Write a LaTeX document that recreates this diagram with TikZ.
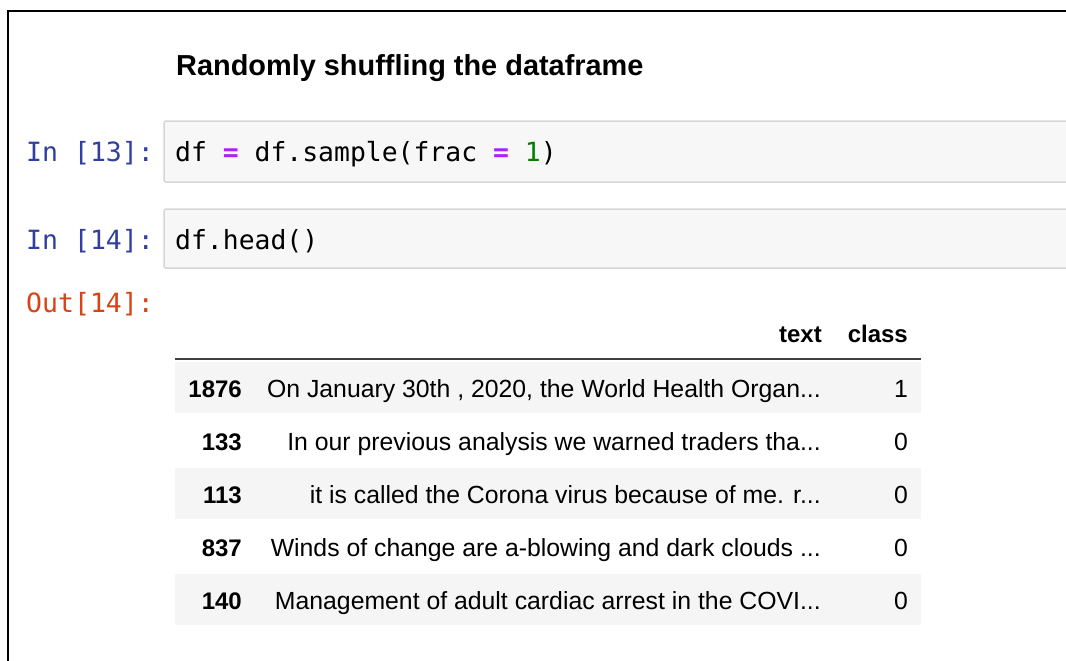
\documentclass[tikz,border=0pt]{standalone}
\usepackage{fontspec}
\setmainfont{Liberation Sans}
\setmonofont{DejaVu Sans Mono}
\usetikzlibrary{positioning}

\definecolor{promptIn}{HTML}{303F9F}
\definecolor{promptOut}{HTML}{D84315}
\definecolor{cellFill}{HTML}{F7F7F7}
\definecolor{cellLine}{HTML}{D6D6D6}
\definecolor{rowFill}{HTML}{F5F5F5}
\definecolor{opPurple}{HTML}{AA22FF}
\definecolor{numGreen}{HTML}{008000}

\tikzset{
	prompt/.style={anchor=base west, inner sep=0pt, font=\fontsize{26.5}{30}\ttfamily},
	code/.style={anchor=base west, inner sep=0pt, font=\fontsize{26.4}{30}\ttfamily},
	cellbox/.style={draw=cellLine, fill=cellFill, line width=1.5pt, rounded corners=2pt},
	tabcell/.style={anchor=base east, inner sep=0pt, font=\fontsize{24.8}{28}\selectfont},
	tabhead/.style={tabcell, font=\fontsize{24}{28}\selectfont\bfseries},
}

\begin{document}
\begin{tikzpicture}[x=1pt, y=-1pt]
	
	% ------------------------------------------------
	% Ensure the dimensions of graphic are appropriate
	\useasboundingbox (0,0) rectangle (1066,661);
	\fill[white] (0,0) rectangle (1066,661);
	
	% ------------------------------------------------
	% Relevant coordinates
	\coordinate (Frame) at (7.5,11);
	\coordinate (CellA) at (164,121);
	\coordinate (CellB) at (164,209);
	
	\path (CellA) +(11,40) coordinate (CodeA);
	\path (CellB) +(11,40) coordinate (CodeB);
	\path (CodeB) +(-149,63) coordinate (OutB);
	
	% ----------------
	% Frame and title
	\draw[line width=2pt] (Frame |- 0,661) -- (Frame) -- (1066,11);
	\node[anchor=base west, inner sep=0pt, font=\fontsize{28.9}{34}\selectfont\bfseries] (Title) at (176,76) {Randomly shuffling the dataframe};
	
	% ----------------
	% Input cells
	\draw[cellbox] (CellA) rectangle (1080,182);
	\draw[cellbox] (CellB) rectangle (1080,268);
	
	\node[prompt, text=promptIn] (InA) at (26,161) {In [13]:};
	\node[prompt, text=promptIn] (InB) at (26,249) {In [14]:};
	\node[prompt, text=promptOut] (OutLabel) at (OutB) {Out[14]:};
	
	\node[code] (CodeTextA) at (CodeA) {df \textcolor{opPurple}{\bfseries =} df.sample(frac \textcolor{opPurple}{\bfseries =} \textcolor{numGreen}{1})};
	\node[code] (CodeTextB) at (CodeB) {df.head()};
	
	%%%%%%%%%%%%%%%%%%%%%%%%%%%%%%%%%%%%%%%%%
	%Table
	\node[tabhead] (HeadText) at (822,342) {text};
	\node[tabhead] (HeadClass) at (908,342) {class};
	\draw[line width=1.6pt, black!75] (175,359) -- (921,359);
	
	\foreach \idx/\txt/\cls [count=\r] in {
		1876/{On January 30th , 2020, the World Health Organ...}/1,
		133/{In our previous analysis we warned traders tha...}/0,
		113/{it is called the Corona virus because of me. r...}/0,
		837/{Winds of change are a-blowing and dark clouds ...}/0,
		140/{Management of adult cardiac arrest in the COVI...}/0}
	{
		\pgfmathsetmacro{\yb}{397+53*(\r-1)}
		\ifodd\r
			\fill[rowFill] (175,\yb-35) rectangle (921,\yb+16);
		\fi
		\node[tabhead] (Idx\r) at (242,\yb) {\idx};
		\node[tabcell] (Txt\r) at (821,\yb) {\txt};
		\node[tabcell] (Cls\r) at (908,\yb) {\cls};
	}
	
\end{tikzpicture}
\end{document}
